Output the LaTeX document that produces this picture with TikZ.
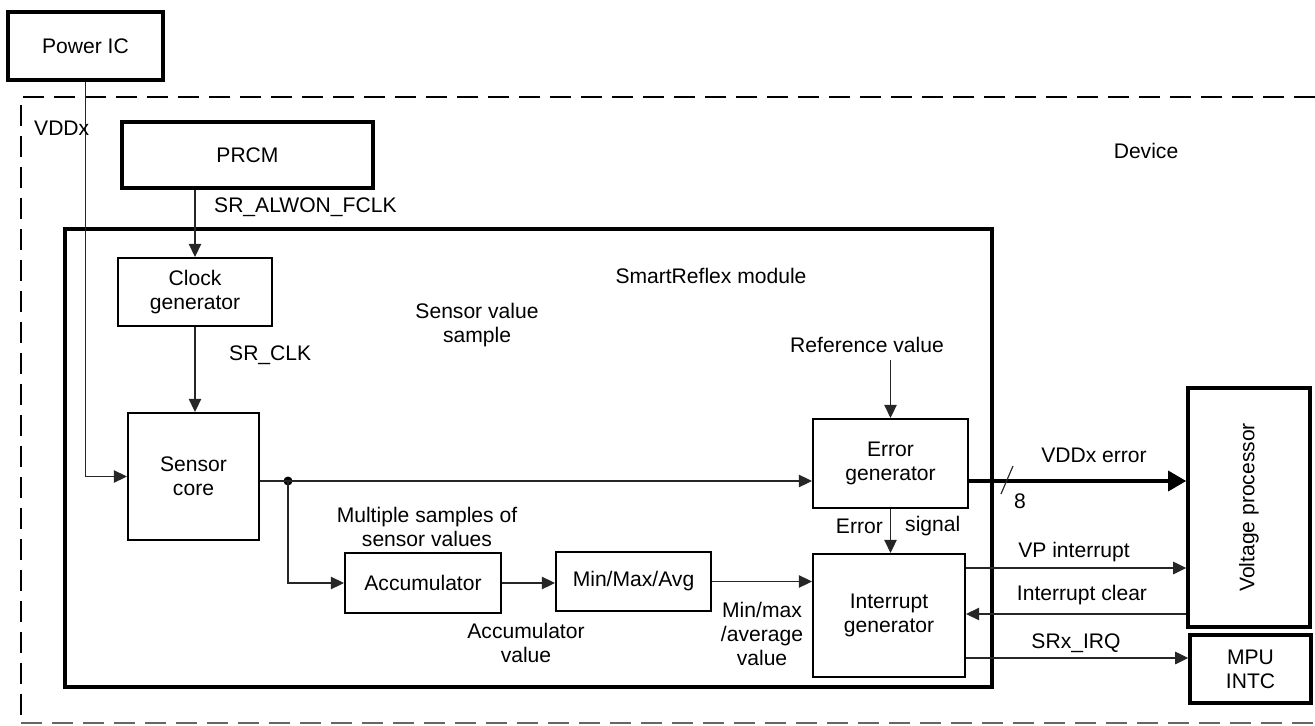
\documentclass[tikz,border=0pt]{standalone}
\usepackage{fontspec}
\setmainfont{Liberation Sans}
\usetikzlibrary{arrows.meta,positioning}

\begin{document}
\begin{tikzpicture}[x=0.02cm, y=-0.02cm, font=\fontsize{12}{13.5}\selectfont,
    outerbox/.style={draw, line width=2.1pt, inner sep=0pt, align=center},
    innerbox/.style={draw, line width=1.3pt, inner sep=0pt, align=center},
    wire/.style={line width=0.65pt, black!85},
    devline/.style={line width=1.4pt, dash pattern=on 0.42cm off 0.2cm},
    >={Triangle[length=0.26cm, width=0.25cm]}]
    \useasboundingbox (0,0) rectangle (1315,726);

    % Device boundary (open on the right)
    \draw[devline] (1315,97) -- (21,97) -- (21,723);
    \draw[devline, black!60] (21,723) -- (1315,723);
    \node at (1146,151) {Device};

    % SmartReflex module
    \draw[line width=2.6pt] (65,229) rectangle (992,687);
    \node at (711,276) {SmartReflex module};

    % Blocks
    \node[outerbox, minimum width=3.1cm, minimum height=1.36cm] (pwr) at (85.5,46) {Power IC};
    \node[outerbox, minimum width=5.02cm, minimum height=1.32cm] (prcm) at (247.5,155) {PRCM};
    \node[innerbox, minimum width=3.08cm, minimum height=1.36cm] (clk) at (195,292) {Clock\\generator};
    \node[innerbox, minimum width=2.62cm, minimum height=2.54cm] (core) at (193.5,476.5) {Sensor\\core};
    \node[innerbox, minimum width=3.12cm, minimum height=1.2cm] (acc) at (423,583) {Accumulator};
    \node[innerbox, minimum width=3.1cm, minimum height=1.18cm] (mma) at (633.5,581.5) {Min/Max/Avg};
    \node[innerbox, minimum width=3.1cm, minimum height=1.78cm] (err) at (890.5,463.5) {Error\\generator};
    \node[innerbox, minimum width=3.04cm, minimum height=2.46cm] (irq) at (889,615.5) {Interrupt\\generator};
    \node[outerbox, minimum width=2.44cm, minimum height=4.78cm] (vp) at (1249,507.5) {};
    \node[rotate=90] at (vp) {Voltage processor};
    \node[outerbox, minimum width=2.42cm, minimum height=1.36cm] (mpu) at (1250.5,669) {MPU\\INTC};

    % Clocks and supply
    \draw[wire, ->] (pwr.south) |- (core.west);
    \node[anchor=west] at (28,128) {VDDx};
    \draw[wire, ->] (clk.north |- prcm.south) -- (clk.north);
    \node[anchor=west] at (208,207) {SR\_ALWON\_FCLK};
    \draw[wire, ->] (clk.south) -- (clk.south |- core.north);
    \node[anchor=west] at (223,355) {SR\_CLK};

    % Sensor value path
    \coordinate (split) at (288,481);
    \fill (split) circle (4.5);
    \draw[wire] (core.east |- split) -- (split);
    \draw[wire, ->] (split) -- (split -| err.west);
    \node[align=center] at (477,325) {Sensor value\\sample};
    \draw[wire, ->] (split) |- (acc.west);
    \node[align=center] at (427,527) {Multiple samples of\\sensor values};
    \draw[wire, ->] (acc.east) -- (acc.east -| mma.west);
    \node[align=center] at (526,643) {Accumulator\\value};
    \draw[wire, ->] (mma.east) -- (mma.east -| irq.west);
    \node[align=center] at (762,634) {Min/max\\/average\\value};

    % Error generator
    \node (refv) at (867,345) {Reference value};
    \draw[wire, ->] (err.north |- 0,360) -- (err.north);
    \draw[wire, ->] (err.south) -- (err.south |- irq.north);
    \node[anchor=east] at (889,526) {Error};
    \node[anchor=west] at (899,526) {signal};
    \draw[line width=1.9pt, -{Triangle[length=0.36cm, width=0.4cm]}] (err.east |- split) -- (vp.west |- split);
    \draw[wire] (1013,466) -- (1001,494);
    \node at (1020,501) {8};
    \node at (1094,455) {VDDx error};

    % Interrupt lines
    \draw[wire, ->] (irq.east |- 0,568) -- (vp.west |- 0,568);
    \node at (1074,552) {VP interrupt};
    \draw[wire, ->] (vp.west |- 0,614) -- (irq.east |- 0,614);
    \node at (1082,595) {Interrupt clear};
    \draw[wire, ->] (irq.east |- 0,658) -- (mpu.west |- 0,658);
    \node at (1076,643) {SRx\_IRQ};
\end{tikzpicture}
\end{document}
